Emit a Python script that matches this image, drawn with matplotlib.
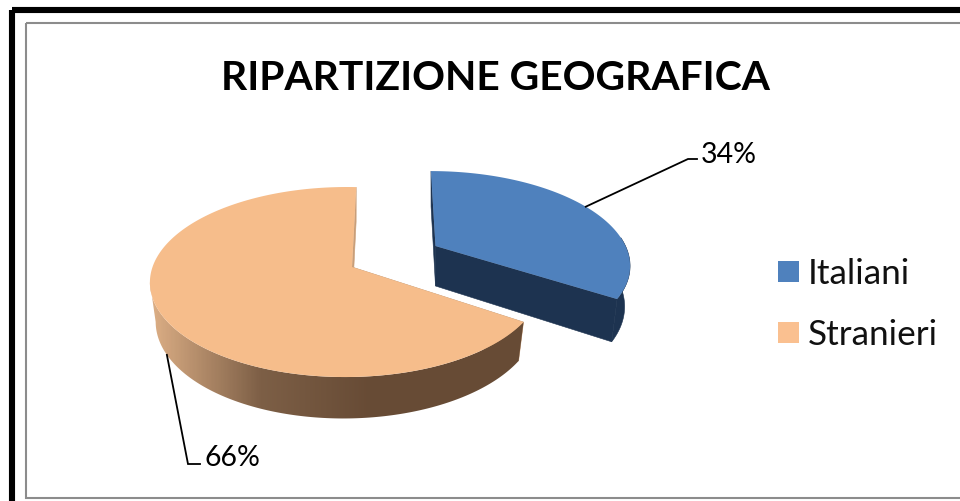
#!/usr/bin/env python3
import numpy as np
import matplotlib
matplotlib.use('Agg')
import matplotlib.pyplot as plt
from matplotlib.colors import LinearSegmentedColormap
from matplotlib.patches import Polygon, Rectangle

plt.rcParams['font.family'] = ['Lato', 'DejaVu Sans']

title = 'RIPARTIZIONE GEOGRAFICA'
categories = ['Italiani', 'Stranieri']
shares = [34, 66]
top_colors = ['#4F81BD', '#F6BD8B']
legend_colors = ['#4F81BD', '#FAC090']
wall_color = '#1D3350'

# pie geometry per slice, in pixels (slices are exploded so each has its own apex)
apex_x = [435.5, 352.0]
apex_y = [247.0, 268.0]
radius_x = [190.0, 193.5]
radius_y = [89.0, 92.6]
persp = [0.188, 0.158]
persp_side = [0.0, 0.03]
shear = [5.4, 0.0]
turn = [0.0, np.radians(1.45)]
depth = [40.0, 38.0]
base_shrink = 0.973
# rim is drawn where cos(theta) is below this, i.e. up to the silhouette
rim_limit = [0.1, -0.17]

orange_wall = LinearSegmentedColormap.from_list('wall', ['#DDAF86', '#7D5F46', '#674B35', '#674B35'])


def project(i, theta, r=1.0, drop=0.0):
    u = r * np.sin(theta + turn[i])
    v = -r * np.cos(theta + turn[i])
    s = 1.0 / (1.0 - persp[i] * v + persp_side[i] * u)
    x = apex_x[i] + radius_x[i] * u * s + shear[i] * v * s
    y = apex_y[i] + radius_y[i] * v * s + drop * s
    return x, y


def main():
    fig = plt.figure(figsize=(9.6, 5.02), dpi=100)
    ax = fig.add_axes([0, 0, 1, 1])

    # outer black frame and inner chart border
    ax.add_patch(Rectangle((12, 11), 1000, 600, fill=False, ec='black', lw=4.4))
    ax.add_patch(Rectangle((26, 24), 1000, 474.5, fill=False, ec='#8C8C8C', lw=1.5))

    edges = np.cumsum([0] + shares) / sum(shares) * 2 * np.pi

    for i in range(len(shares)):
        th0, th1 = edges[i], edges[i + 1]
        theta = np.linspace(th0, th1, 240)
        d = depth[i]

        # cut faces first, they sit behind the rim
        for t in (th0, th1):
            quad = [project(i, t), project(i, t, 0.0), project(i, t, 0.0, d), project(i, t, base_shrink, d)]
            c = wall_color if i == 0 else '#C99E78'
            ax.add_patch(Polygon(quad, closed=True, fc=c, ec=c, lw=0.4))

        # outer rim, only the part facing us
        front = np.cos(theta) <= rim_limit[i]
        tx, ty = project(i, theta[front])
        bx, by = project(i, theta[front], base_shrink, d)
        rim = np.vstack([np.column_stack([tx, ty]), np.column_stack([bx, by])[::-1]])
        if i == 0:
            ax.add_patch(Polygon(rim, closed=True, fc=wall_color, ec=wall_color, lw=0.4, zorder=2))
        else:
            patch = Polygon(rim, closed=True, fc='none', ec='none')
            ax.add_patch(patch)
            grad = np.clip((np.arange(140, 540) - 150) / 330, 0, 1)[None, :]
            im = ax.imshow(grad, cmap=orange_wall, vmin=0, vmax=1, extent=(140, 540, 430, 180),
                           aspect='auto', zorder=2)
            im.set_clip_path(patch)

        tx, ty = project(i, theta)
        pts = np.vstack([np.column_stack([tx, ty]), project(i, th0, 0.0)])
        ax.add_patch(Polygon(pts, closed=True, fc=top_colors[i], ec='none', zorder=3))

    # leader lines start at each slice's mid angle
    mid = 0.5 * (edges[:-1] + edges[1:])
    x0, y0 = project(0, mid[0])
    ax.plot([x0, 688, 697], [y0, 160, 160], color='black', lw=1.3, solid_joinstyle='miter', zorder=4)
    x1, y1 = project(1, mid[1], base_shrink, depth[1])
    ax.plot([x1, 188, 200], [y1, 465, 465], color='black', lw=1.3, solid_joinstyle='miter', zorder=4)

    ax.text(701, 155, f'{shares[0]}%', fontsize=20.5, ha='left', va='center', color='black')
    ax.text(204, 458.5, f'{shares[1]}%', fontsize=20.5, ha='left', va='center', color='black')

    ax.text(495, 78, title, fontsize=29.3, fontweight='bold', ha='center', va='center', color='black')

    # legend
    for name, color, y in zip(categories, legend_colors, [272.5, 333.5]):
        ax.add_patch(Rectangle((778, y - 10.5), 21, 21, fc=color, ec='none'))
        ax.text(808, y + 2, name, fontsize=25.3, ha='left', va='center', color='#111111')

    ax.set_xlim(0, 960)
    ax.set_ylim(502, 0)
    ax.axis('off')
    fig.savefig('out.png', dpi=100)


if __name__ == "__main__":
    main()
